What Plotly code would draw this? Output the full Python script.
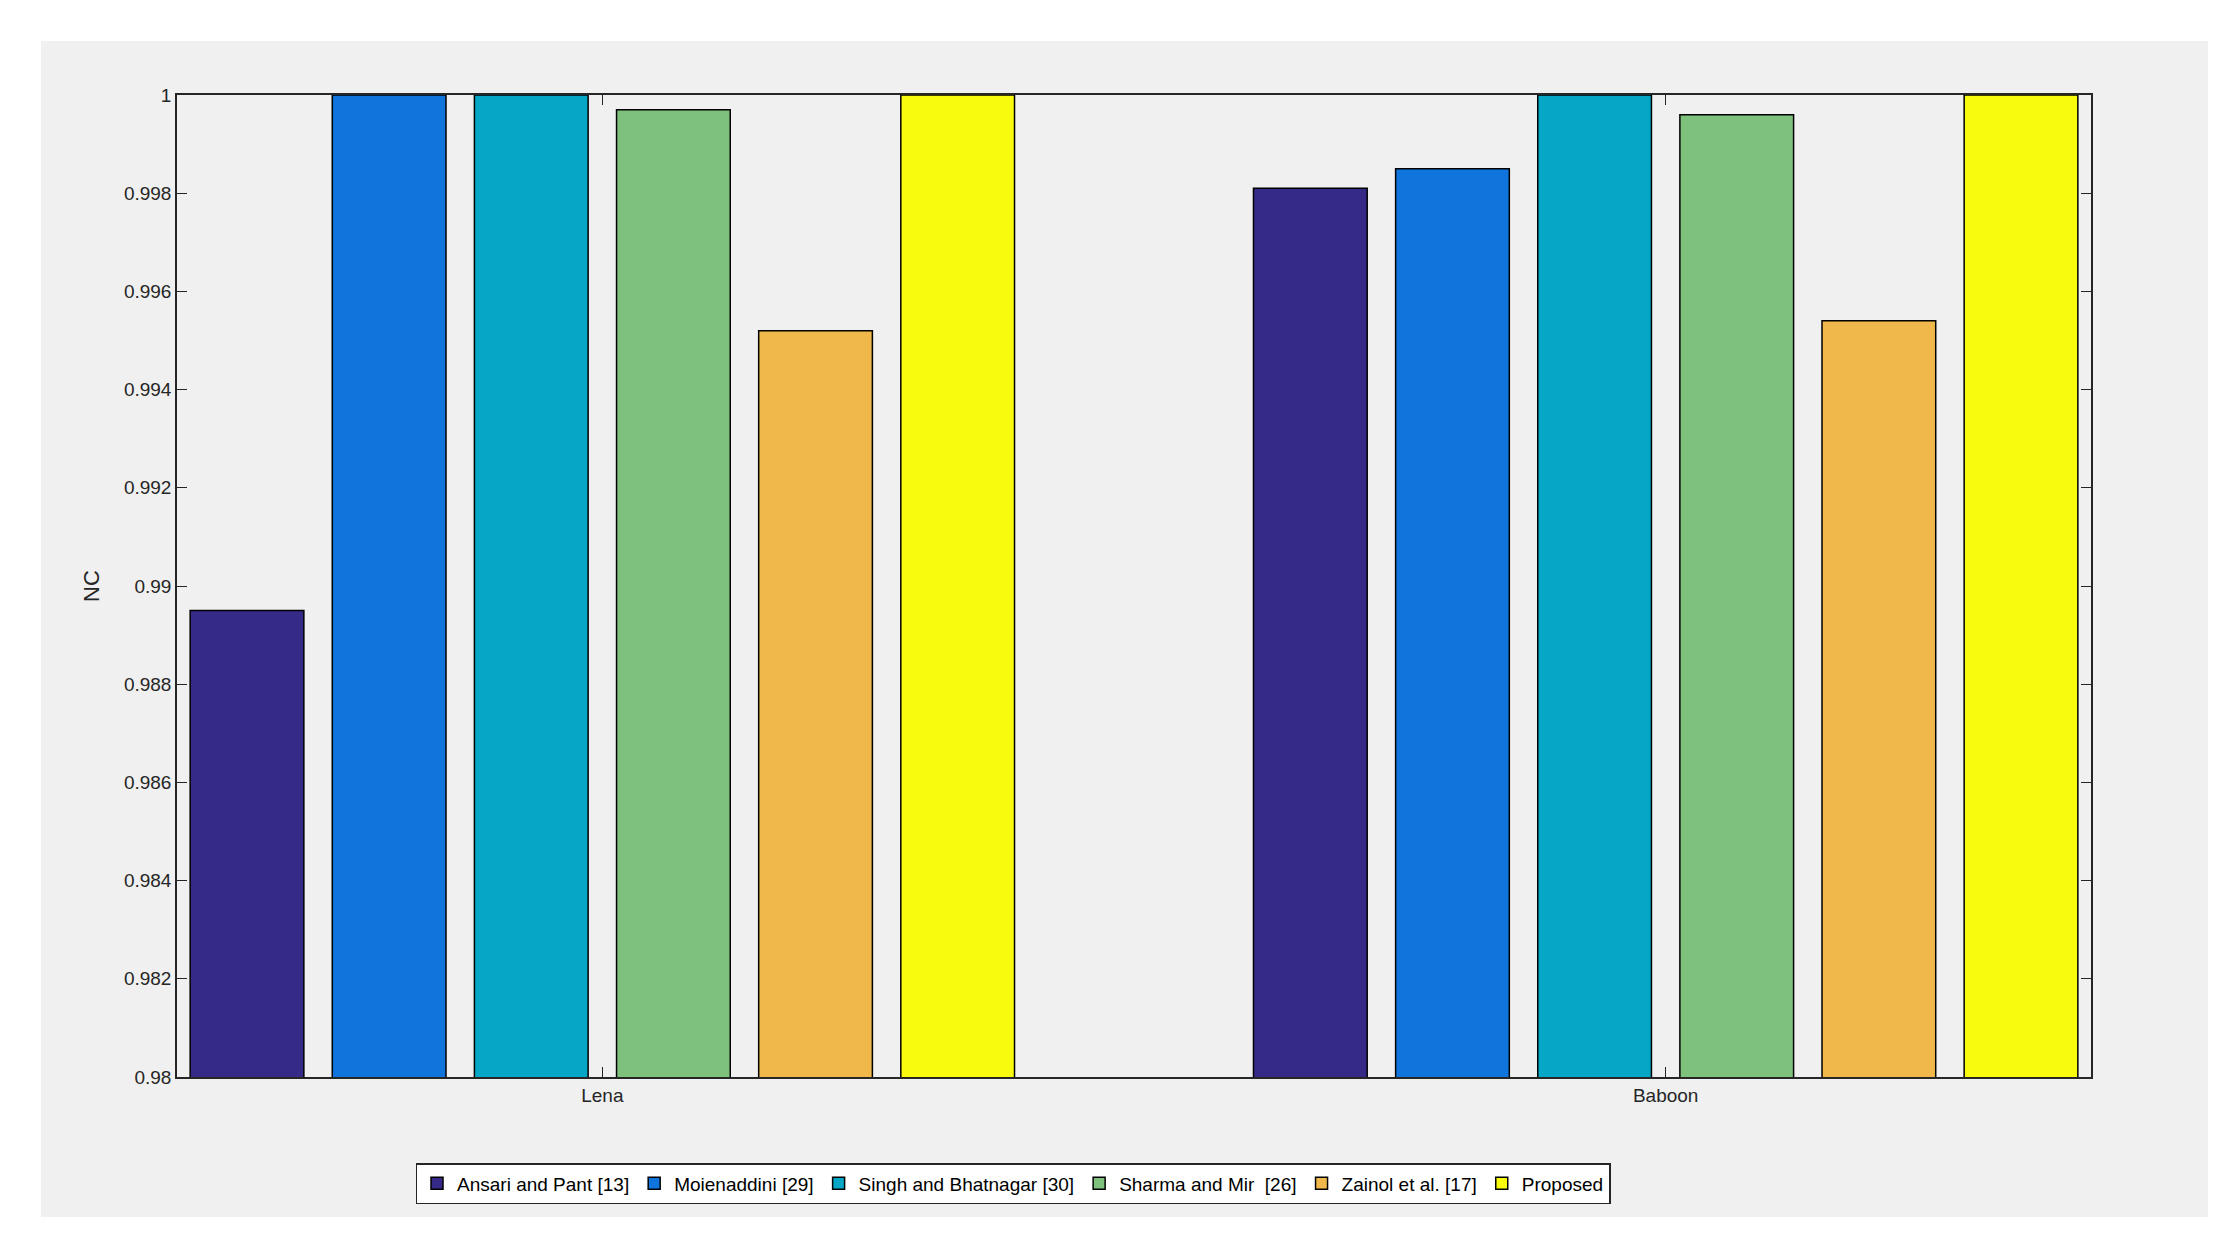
import plotly.graph_objects as go

categories = ["Lena", "Baboon"]
methods = ["Ansari and Pant [13]", "Moienaddini [29]", "Singh and Bhatnagar [30]",
           "Sharma and Mir  [26]", "Zainol et al. [17]", "Proposed"]
lena = [0.9895, 1.0, 1.0, 0.9997, 0.9952, 1.0]
baboon = [0.9981, 0.9985, 1.0, 0.9996, 0.9954, 1.0]
colors = ["#352a87", "#0f75dc", "#06a7c6", "#7ec17c", "#f0b84a", "#f9fb0e"]
yticks = [0.98, 0.982, 0.984, 0.986, 0.988, 0.99, 0.992, 0.994, 0.996, 0.998, 1]
ytick_labels = ["0.98", "0.982", "0.984", "0.986", "0.988", "0.99", "0.992", "0.994", "0.996", "0.998", "1"]

fig = go.Figure()
for i, m in enumerate(methods):
    fig.add_trace(go.Bar(x=[1, 2], y=[lena[i], baboon[i]], name=m,
                         marker=dict(color=colors[i], line=dict(color="black", width=1.5))))

W, H = 2230, 1248
l, r, t, b = 169, 147, 87, 179
pw, ph = W - l - r, H - t - b
fig.add_shape(type="rect", xref="paper", yref="paper",
              x0=(33 - l) / pw, x1=(2200 - l) / pw,
              y0=(H - b - 1209) / ph, y1=(H - b - 33) / ph,
              fillcolor="#f0f0f0", line=dict(width=0), layer="below")

axis_common = dict(showline=True, linecolor="#262626", linewidth=1.5, mirror="ticks",
                   ticks="inside", ticklen=10, tickcolor="#262626", showgrid=False,
                   zeroline=False, tickfont=dict(family="Liberation Sans, Arial", size=19, color="#262626"))
fig.update_layout(
    width=W, height=H, margin=dict(l=l, r=r, t=t, b=b),
    paper_bgcolor="white", plot_bgcolor="white",
    barmode="group", bargap=0.198, bargroupgap=0.2,
    font=dict(family="Liberation Sans, Arial", size=19, color="#262626"),
    xaxis=dict(range=[0.6, 2.4], tickvals=[1, 2], ticktext=categories, **axis_common),
    yaxis=dict(range=[0.98, 1.0], tickvals=yticks, ticktext=ytick_labels,
               title=dict(text="NC", font=dict(size=22), standoff=18), **axis_common),
    legend=dict(orientation="h", x=(1005 - l) / pw, xanchor="center",
                y=(H - b - 1155) / ph, yanchor="top", bgcolor="white",
                bordercolor="#262626", borderwidth=1.5,
                font=dict(size=19, color="black"), itemwidth=30),
)
fig.write_html("out.html")
